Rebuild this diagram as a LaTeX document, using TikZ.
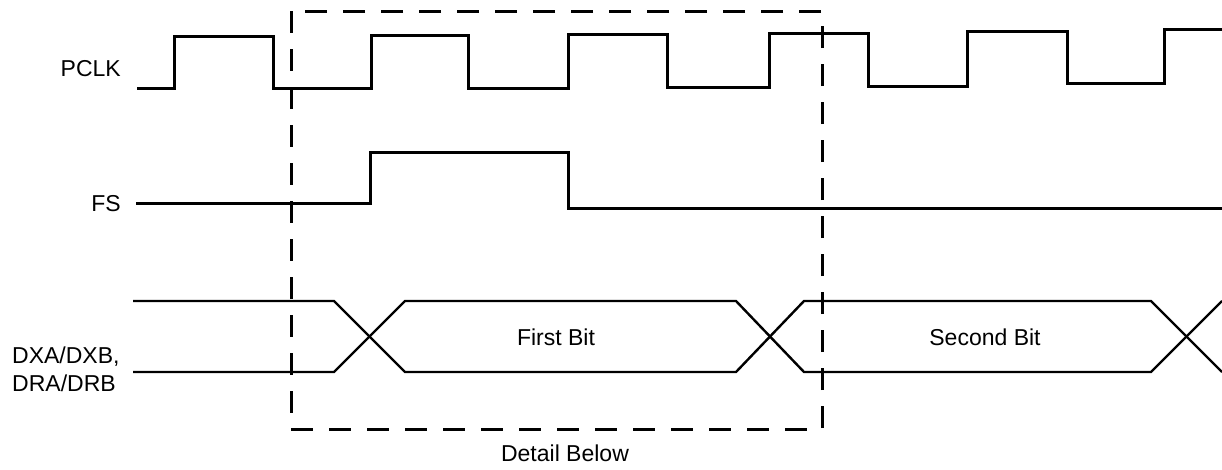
\documentclass[tikz,border=0pt]{standalone}
\usepackage{fontspec}
\setmainfont{Liberation Sans}
\begin{document}
\begin{tikzpicture}[x=1pt,y=-1pt,
  sig/.style={line width=3pt,line join=miter},
  bus/.style={line width=2.4pt,line join=miter},
  detailbox/.style={line width=3pt,dash pattern=on 22pt off 16pt},
  lbl/.style={font=\fontsize{23}{28}\selectfont,inner sep=0pt}]
\useasboundingbox (0,0) rectangle (1222,469);
% PCLK
\draw[sig] (137,88) -- (174,88) -- (174,36) -- (273,36) -- (273,88) -- (371,88)
  -- (371,35) -- (468,35) -- (468,88) -- (568,88) -- (568,34) -- (667,34)
  -- (667,87) -- (769,87) -- (769,33) -- (868,33) -- (868,86) -- (967,86)
  -- (967,31) -- (1067,31) -- (1067,83) -- (1164,83) -- (1164,29) -- (1222,29);
% FS
\draw[sig] (136,203) -- (370,203) -- (370,152) -- (568,152) -- (568,208) -- (1222,208);
% Data bus
\draw[bus] (133,301) -- (334,301) -- (405,372) -- (736,372) -- (804,301) -- (1151,301) -- (1222,372);
\draw[bus] (133,372) -- (334,372) -- (405,301) -- (736,301) -- (804,372) -- (1151,372) -- (1222,301);
% Detail box
\draw[detailbox] (291,11) rectangle (822,429);
% Labels
\node[lbl,anchor=east] (pclk) at (121,69) {PCLK};
\node[lbl,anchor=east] (fs) at (121,204) {FS};
\node[lbl,anchor=west,align=left] (dx) at (12,369) {DXA/DXB,\\DRA/DRB};
\node[lbl] (b1) at (556,337) {First Bit};
\node[lbl] (b2) at (985,337) {Second Bit};
\node[lbl] (det) at (565,453) {Detail Below};
\end{tikzpicture}
\end{document}
